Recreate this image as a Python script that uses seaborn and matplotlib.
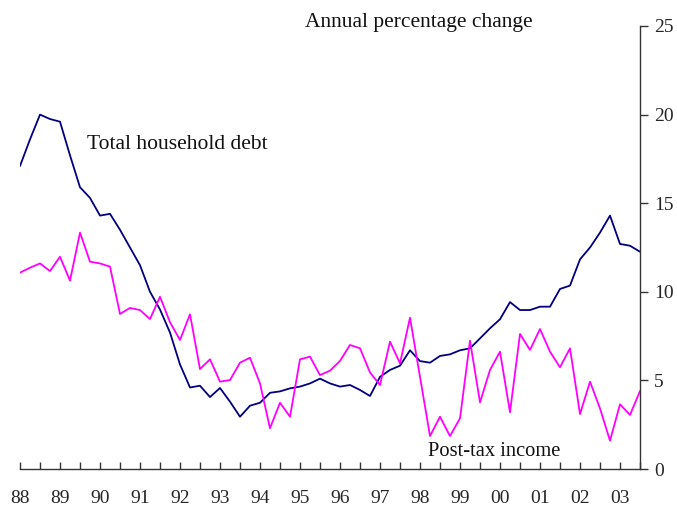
import numpy as np
import pandas as pd
import matplotlib
matplotlib.use("Agg")
import matplotlib.pyplot as plt
import seaborn as sns

start_year = 1988
quarters_per_year = 4

debt = [17.1, 18.6, 20.0, 19.75, 19.6, 17.7, 15.9, 15.3, 14.3, 14.4,
        13.5, 12.5, 11.5, 10.0, 9.0, 7.7, 5.9, 4.6, 4.7, 4.06,
        4.57, 3.8, 2.95, 3.57, 3.74, 4.3, 4.38, 4.55, 4.65, 4.83,
        5.1, 4.83, 4.65, 4.74, 4.46, 4.12, 5.2, 5.59, 5.83, 6.7,
        6.09, 6.0, 6.38, 6.47, 6.7, 6.81, 7.37, 7.94, 8.45, 9.42,
        8.97, 8.97, 9.16, 9.16, 10.16, 10.35, 11.83, 12.5, 13.34, 14.3,
        12.7, 12.6, 12.26]

income = [11.08, 11.36, 11.6, 11.17, 11.98, 10.63, 13.34, 11.7, 11.6, 11.42,
          8.75, 9.09, 8.97, 8.46, 9.72, 8.28, 7.28, 8.73, 5.64, 6.19,
          4.93, 5.02, 6.0, 6.28, 4.83, 2.3, 3.74, 2.95, 6.19, 6.34,
          5.3, 5.55, 6.1, 7.0, 6.81, 5.45, 4.74, 7.19, 5.96, 8.54,
          5.2, 1.86, 2.95, 1.86, 2.86, 7.24, 3.76, 5.59, 6.62, 3.2,
          7.62, 6.72, 7.9, 6.62, 5.74, 6.81, 3.1, 4.93, 3.42, 1.6,
          3.65, 3.05, 4.4]

year_labels = ["88", "89", "90", "91", "92", "93", "94", "95", "96", "97",
               "98", "99", "00", "01", "02", "03"]
series_names = ["Total household debt", "Post-tax income"]
yticks = [0, 5, 10, 15, 20, 25]

t = [start_year + i / quarters_per_year for i in range(len(debt))]
df = pd.DataFrame({
    "t": t + t,
    "value": debt + income,
    "series": [series_names[0]] * len(debt) + [series_names[1]] * len(income),
})

sns.set_style("white")
plt.rcParams["font.family"] = ["Liberation Serif", "DejaVu Serif"]

fig = plt.figure(figsize=(6.77, 5.08), dpi=100)
ax = fig.add_axes([20 / 677, 1 - 469 / 508, 620 / 677, 443 / 508])

sns.lineplot(data=df, x="t", y="value", hue="series",
             palette={series_names[0]: "#000080", series_names[1]: "#FF00FF"},
             linewidth=1.3, legend=False, ax=ax)

ax.set_xlim(start_year, start_year + 15.5)
ax.set_ylim(0, 25)

# spines
ax.spines["left"].set_visible(False)
ax.spines["top"].set_visible(False)
ax.spines["right"].set_visible(True)
ax.spines["bottom"].set_visible(True)
for s in ("right", "bottom"):
    ax.spines[s].set_color("#333333")
    ax.spines[s].set_linewidth(1.0)

# y axis on right
ax.yaxis.tick_right()
ax.set_yticks(yticks)
ax.set_yticklabels([str(v) for v in yticks])
ax.tick_params(axis="y", which="both", direction="out", length=6, width=1,
               color="#333333", labelsize=14, pad=4, right=True, left=False)

# x axis
years = [start_year + k for k in range(len(year_labels))]
ax.set_xticks(years)
ax.set_xticklabels(year_labels)
ax.set_xticks([y + 0.5 for y in years], minor=True)
ax.tick_params(axis="x", which="both", direction="in", length=5, width=1,
               color="#333333", bottom=True, top=False)
ax.tick_params(axis="x", which="major", labelsize=14, pad=15)
ax.set_xlabel("")
ax.set_ylabel("")
ax.grid(False)

ax.text(start_year + 1.675, 18.3, series_names[0], fontsize=15.5,
        ha="left", va="center", color="#111111")
ax.text(start_year + 10.2, 1.0, series_names[1], fontsize=14.8,
        ha="left", va="center", color="#111111")
fig.text(305 / 677, 1 - 22 / 508, "Annual percentage change", fontsize=15.5,
         ha="left", va="center", color="#111111")

fig.savefig("out.png", dpi=100)
